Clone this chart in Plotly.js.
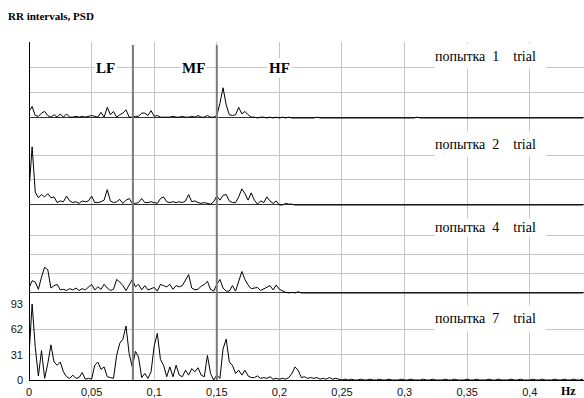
<!DOCTYPE html>
<html><head><meta charset="utf-8">
<script src="https://cdn.plot.ly/plotly-3.0.1.min.js"></script>
<style>html,body{margin:0;padding:0;background:#fff}#chart{width:584px;height:398px}</style>
</head><body><div id="chart"></div>
<script>
// PSD of RR intervals, frequency grid step (Hz)
const freqStep = 0.0025;

const trial1 = [
  8,14,3,2,6,8,3,1,4,1,
  5,1,5,1,1,2,1,2,1,2,
  3,2,1,7,1,13,4,8,1,4,
  6,10,1,1,2,2,6,6,3,9,
  2,3,1,1,1,1,2,1,1,2,
  1,1,2,1,3,1,1,3,1,1,
  3,18,37,16,4,3,4,13,5,8,
  4,1,1,0,1,1,0,1,0,1,
  0,1,0,1,0,0,0,0,0,0,
  0,0,1,0,0,0,0,0,0,0,
  0,0,0,0,0,0,0,0,0,0,
  0,0,0,0,0,0,0,0,0,0,
  0,0,0,0,1,0,0,0,0,0,
  0,0,0,0,0,0,0,0,0,0,
  0,0,0,0,0,0,0,0,0,0,
  0,0,0,0,0,0,0,0,0,0,
  0,0,0,0,0,0,0,0,0,0,
  0,0,0,0,0,0,0,0
];
const trial2 = [
  18,72,16,9,13,10,14,9,10,3,
  5,4,11,5,3,4,2,5,4,5,
  11,3,3,4,6,19,5,3,4,7,
  2,6,8,2,2,3,8,3,3,4,
  3,2,8,10,4,3,4,3,4,3,
  5,13,4,5,3,2,3,2,1,4,
  11,6,12,13,5,3,3,10,20,14,
  6,15,6,1,5,3,10,5,2,5,
  0,0,2,1,1,0,0,0,0,0,
  0,0,0,0,0,0,0,0,0,0,
  0,0,0,0,0,0,0,0,0,0,
  0,0,0,0,0,0,0,0,0,0,
  0,0,0,0,0,0,0,0,0,0,
  0,0,0,0,0,0,0,0,0,0,
  0,0,0,0,0,0,0,0,0,0,
  0,0,0,0,0,0,0,0,0,0,
  0,0,0,0,0,0,0,0,0,0,
  0,0,0,0,0,0,0,0
];
const trial4 = [
  8,20,18,6,26,42,38,8,12,14,
  5,6,4,7,5,8,4,7,5,9,
  14,5,10,6,14,8,4,6,22,18,
  12,4,14,22,10,14,5,12,5,7,
  9,3,14,12,10,14,6,12,10,12,
  22,30,8,5,6,11,14,19,6,3,
  14,22,8,3,3,12,3,20,35,22,
  13,7,8,9,4,7,10,12,5,13,
  6,3,1,0,1,0,2,0,0,0,
  0,0,0,0,0,0,0,0,0,0,
  0,0,0,0,0,0,0,0,0,0,
  0,0,0,0,0,0,0,0,0,0,
  0,0,0,0,0,0,0,0,0,0,
  0,0,0,0,0,0,0,0,0,0,
  0,0,0,0,0,0,0,0,0,0,
  0,0,0,0,0,0,0,0,0,0,
  0,0,0,0,0,0,0,0,0,0,
  0,0,0,0,0,0,0,0
];
const trial7 = [
  30,93,40,5,36,2,20,43,22,18,
  22,10,4,2,6,2,3,9,1,2,
  1,18,22,13,16,4,3,2,30,45,
  50,66,32,16,35,28,3,8,2,10,
  42,57,25,18,4,16,4,18,6,4,
  12,6,14,10,15,6,4,30,8,0,
  6,2,38,50,22,18,8,12,6,12,
  5,3,3,5,2,3,2,4,1,2,
  1,2,1,3,8,16,12,3,4,2,
  3,2,3,1,2,1,3,1,2,1,
  0,1,0,1,0,0,1,0,0,1,
  0,0,1,0,0,1,0,0,0,1,
  0,0,1,0,0,0,1,0,0,1,
  0,0,0,1,0,0,1,0,0,0,
  1,0,0,1,0,0,0,1,0,0,
  1,0,0,0,1,0,0,1,0,0,
  0,1,0,0,1,0,0,0,1,0,
  0,1,0,0,1,0,0,1
];

const series = [trial1, trial2, trial4, trial7];
const trialLabels = ['попытка  1    trial', 'попытка  2    trial', 'попытка  4    trial', 'попытка  7    trial'];
const bandNames = ['LF', 'MF', 'HF'];
const bandEdges = [0.083, 0.15];
const psdTicks = [0, 31, 62, 93];
const psdTicksWide = [0, 31, 62, 93, 124];
const xTicks = [0, 0.05, 0.1, 0.15, 0.2, 0.25, 0.3, 0.35, 0.4];

const freq = trial1.map((_, i) => i * freqStep);

// layout geometry (pixels)
const W = 584, H = 398, L = 29, R = 0, T = 42, B = 18;
const plotH = H - T - B, plotW = W - L - R;
const py = v => (H - B - v) / plotH;      // pixel y -> paper
const pxr = v => (v - L) / plotW;         // pixel x -> paper

const domains = [[py(130), 1], [py(217), py(130)], [py(304), py(217)], [0, py(304)]];
const ranges = [[-14.7, 93], [-14.9, 93], [-18, 124], [0, 93]];
const gridSets = [psdTicks, psdTicks, psdTicksWide, psdTicks];
const panelTops = [42, 130, 217, 304];
const boxH = [24, 24, 17, 25];

const traces = series.map((s, k) => ({
  x: freq, y: s, xaxis: 'x', yaxis: k === 0 ? 'y' : 'y' + (k + 1),
  type: 'scatter', mode: 'lines', line: {color: '#000', width: 1}, hoverinfo: 'skip'
}));

const layout = {
  width: W, height: H,
  margin: {l: L, r: R, t: T, b: B, pad: 0},
  paper_bgcolor: '#fff', plot_bgcolor: '#fff',
  showlegend: false,
  separators: ', ',
  font: {family: 'Liberation Sans, Arial, sans-serif', size: 11, color: '#000'},
  title: {
    text: '<b>RR intervals, PSD</b>',
    font: {family: 'Liberation Serif, Times New Roman, serif', size: 11, color: '#000'},
    xref: 'container', yref: 'container', x: 8 / W, xanchor: 'left', y: 1 - 16 / H, yanchor: 'middle'
  },
  xaxis: {
    anchor: 'y4', domain: [0, 1], range: [0, 0.4433],
    tickmode: 'array', tickvals: xTicks,
    showgrid: true, gridcolor: '#c6c6c6', gridwidth: 1,
    zeroline: true, zerolinecolor: '#000', zerolinewidth: 1,
    showline: true, linecolor: '#000', linewidth: 1,
    ticks: '', ticklabelstandoff: 2,
    tickfont: {family: 'Liberation Sans, Arial, sans-serif', size: 11, color: '#111'},
    fixedrange: true
  },
  shapes: bandEdges.map(e => ({
    type: 'line', xref: 'x', yref: 'paper', x0: e, x1: e, y0: 0, y1: py(45),
    line: {color: '#7a7a7a', width: 2}, layer: 'above'
  })),
  annotations: []
};

for (let k = 0; k < 4; k++) {
  const name = k === 0 ? 'yaxis' : 'yaxis' + (k + 1);
  layout[name] = {
    anchor: 'x', domain: domains[k], range: ranges[k],
    tickmode: 'array', tickvals: gridSets[k],
    showticklabels: k === 3, ticks: '', ticklabelstandoff: 5,
    tickfont: {family: 'Liberation Sans, Arial, sans-serif', size: 11, color: '#111'},
    showgrid: true, gridcolor: '#c6c6c6', gridwidth: 1,
    zeroline: true, zerolinecolor: k === 3 ? '#000' : '#333', zerolinewidth: 1,
    showline: false, fixedrange: true
  };
  layout.annotations.push({
    xref: 'paper', yref: 'paper', x: pxr(434), y: py(panelTops[k] + 1),
    xanchor: 'left', yanchor: 'top', width: 110, height: boxH[k],
    align: 'left', valign: 'middle', showarrow: false,
    bgcolor: '#fff', borderpad: 0,
    text: trialLabels[k].replace(/ /g, '\u00a0'),
    font: {family: 'Liberation Serif, Times New Roman, serif', size: 14, color: '#000'}
  });
}

const bandCenters = [pxr(105), pxr(193), pxr(279)];
bandNames.forEach((b, i) => layout.annotations.push({
  xref: 'paper', yref: 'paper', x: bandCenters[i], y: py(68),
  xanchor: 'center', yanchor: 'middle', showarrow: false,
  bgcolor: '#fff', borderpad: 1,
  text: '<b>' + b + '</b>',
  font: {family: 'Liberation Serif, Times New Roman, serif', size: 15, color: '#000'}
}));

layout.annotations.push({
  xref: 'paper', yref: 'paper', x: pxr(568), y: py(391),
  xanchor: 'center', yanchor: 'middle', showarrow: false,
  text: '<b>Hz</b>',
  font: {family: 'Liberation Serif, Times New Roman, serif', size: 12, color: '#000'}
});

Plotly.newPlot('chart', traces, layout, {staticPlot: true, displayModeBar: false});
</script>
</body></html>
